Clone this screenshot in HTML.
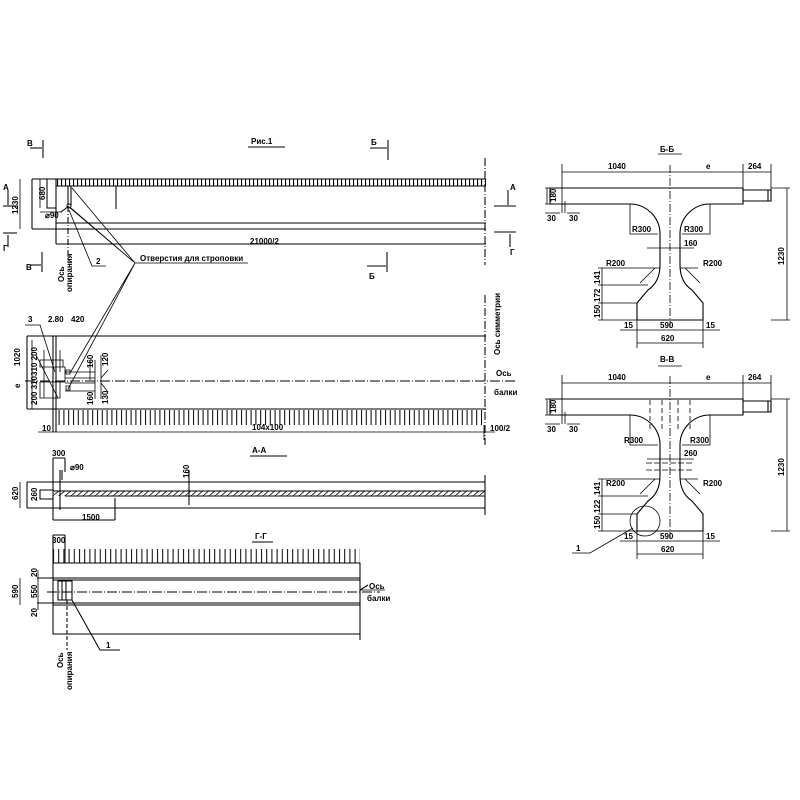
<!DOCTYPE html>
<html><head><meta charset="utf-8"><style>
html,body{margin:0;padding:0;background:#fff}
svg{display:block}
text{font-family:"Liberation Sans Narrow","Liberation Sans",sans-serif;font-size:8px;font-weight:bold;fill:#000}
</style></head><body>
<svg width="800" height="800" viewBox="0 0 800 800" xmlns="http://www.w3.org/2000/svg">
<defs>
<pattern id="tk" x="0" y="0" width="4" height="10" patternUnits="userSpaceOnUse"><rect x="1" y="0" width="1.1" height="10" fill="#000"/></pattern>
<pattern id="tk2" x="0" y="0" width="4.8" height="20" patternUnits="userSpaceOnUse"><rect x="1" y="0" width="1" height="20" fill="#000"/></pattern>
<pattern id="tk3" x="0" y="0" width="5.2" height="20" patternUnits="userSpaceOnUse"><rect x="1" y="0" width="1" height="20" fill="#000"/></pattern>
<pattern id="hb" x="0" y="0" width="6" height="5" patternUnits="userSpaceOnUse"><path d="M0,5 L6,0" stroke="#000" stroke-width="0.8"/></pattern>
</defs>
<g fill="none" stroke="#000" stroke-width="1.05">
<line x1="248" y1="147" x2="285" y2="147"/>
<line x1="43" y1="140" x2="43" y2="158"/><line x1="30" y1="148" x2="42" y2="148"/>
<line x1="42" y1="252" x2="42" y2="272"/><line x1="30" y1="265" x2="41" y2="265"/>
<line x1="388" y1="140" x2="388" y2="160"/><line x1="370" y1="148" x2="387" y2="148"/>
<line x1="387" y1="252" x2="387" y2="272"/><line x1="367" y1="266" x2="386" y2="266"/>
<line x1="3" y1="206" x2="17" y2="206"/><line x1="8" y1="190" x2="8" y2="205"/>
<line x1="3" y1="233" x2="17" y2="233"/><line x1="8" y1="235" x2="8" y2="247"/>
<line x1="494" y1="206" x2="516" y2="206"/><line x1="508" y1="190" x2="508" y2="205"/>
<line x1="494" y1="232" x2="516" y2="232"/><line x1="510" y1="234" x2="510" y2="247"/>
<path d="M32,179 H486 M32,179 V229 M56,179 V244 M47,179 V208 H56 M56,186 H486 M56,223 H486 M32,229 H486 M56,244 H486 M116,186 V209 M68,186 V205 M71,186 V205"/>
<line x1="68" y1="206" x2="68" y2="262" stroke-dasharray="6,2,1,2"/>
<circle cx="69" cy="206" r="2"/>
<line x1="61" y1="212" x2="69" y2="206"/>
<line x1="40" y1="212" x2="62" y2="212" stroke-width="0.8"/>
<line x1="485" y1="158" x2="485" y2="265" stroke-dasharray="8,2,1,2"/>
<line x1="20" y1="179" x2="20" y2="229" stroke-width="0.8"/>
<line x1="40" y1="179" x2="40" y2="208" stroke-width="0.8"/>
<path d="M72,188 L135,263 M69,207 L135,263 M71,208 L135,263 M135,263 L70,373 M135,263 L68,389 M135,263 H248" stroke-width="0.8"/>
<path d="M69,210 L92,266 H106" stroke-width="0.8"/>
<path d="M27,336 H486 M27,336 V409 M27,409 H486 M53,336 V432 M56,336 V432"/>
<line x1="25" y1="381" x2="515" y2="381" stroke-dasharray="10,2,1,2"/>
<line x1="485" y1="295" x2="485" y2="440" stroke-dasharray="8,2,1,2"/>
<path d="M40,360 H63 V367 H40 Z M40,367 H65 V382 H40 M40,382 H60 V398 H40 Z M44,350 V398 M36,355 L58,398 M60,350 V372 M66,370 h4 v4 h-4 z M66,386 h4 v4 h-4 z M65,372 H95 M65,378 H95 M65,383 H95 M65,391 H95 M95,360 V399 M90,360 V380 M101,355 V399 M101,378 L108,370 M101,383 L108,392 M25,325 H40 L55,372" stroke-width="0.8"/>
<line x1="32" y1="340" x2="32" y2="409" stroke-width="0.8"/>
<line x1="38" y1="432" x2="495" y2="432" stroke-width="0.8"/>
<line x1="484" y1="425" x2="484" y2="440" stroke-width="0.8"/>
<line x1="250" y1="456" x2="287" y2="456"/>
<path d="M27,482 H485 M27,482 V508 M27,508 H485 M53,458 V520 M65,458 V472 M53,458 H65 M40,490 H53 V499 H40 Z M53,491 H485 M65,496 H485 M60,470 V510 M62,470 V480 M53,520 H115 M115,498 V520 M189,470 V505"/>
<rect x="53" y="491" width="432" height="5" fill="url(#hb)" stroke="none"/>
<path d="M485,475 V515 M485,438 V445"/>
<line x1="20" y1="482" x2="20" y2="508" stroke-width="0.8"/>
<line x1="252" y1="542" x2="273" y2="542"/>
<path d="M53,535 V563 M65,535 V563 M53,535 H65 M53,563 H360 V640 M53,563 V634 H360 M37,578 H360 M53,580 H360 M37,603 H360 M53,605 H360 M58,581 H72 V600 H58 Z M62,581 V600 M66,581 V600 M72,600 L100,650 H120 M360,590 L368,585"/>
<line x1="47" y1="592" x2="380" y2="592" stroke-dasharray="10,2,1,2"/>
<line x1="67" y1="600" x2="67" y2="650" stroke-dasharray="4,2"/>
<line x1="360" y1="590" x2="385" y2="590" stroke-width="0.8"/>
<line x1="20" y1="578" x2="20" y2="605" stroke-width="0.8"/>
<line x1="38" y1="570" x2="38" y2="610" stroke-width="0.8"/>
</g>
<rect x="56" y="179" width="430" height="7" fill="url(#tk)"/>
<rect x="57" y="410" width="428" height="15" fill="url(#tk2)"/>
<rect x="53" y="549" width="307" height="14" fill="url(#tk3)"/>

<g id="sec" fill="none" stroke="#000" stroke-width="1.1">
<path d="M550,188 H743 V204 H710 A30 30 0 0 0 680,234 V265 Q680,282 692,290 L703,303 V320 H637 V303 L648,290 Q660,282 660,265 V234 A30 30 0 0 0 630,204 H550 Z"/>
<path d="M743,190 H771 V201 H743 M768,190 V201"/>
<path d="M562,164 V205 M743,164 V190 M771,164 V190 M562,172 H771 M562,201 V213 M565,201 V213 M545,213 H560 M567,213 H580 M771,188 H790 M771,320 H790 M787,188 V320 M630,204 V234 H658 M710,204 V234 H682 M647,248 H694 M640,268 H660 M680,268 H698 M602,268 V320 M598,268 H640 M598,285 H648 M598,303 H637 M598,320 H637 M637,320 V348 M703,320 V348 M620,330 H720 M637,343 H703 M655,268 L640,283 M685,268 L700,283 M545,188 H550 M545,204 H550 M547,188 V204" stroke-width="0.8"/>
<line x1="670" y1="165" x2="670" y2="328" stroke-dasharray="8,2,1,2" stroke-width="0.8"/>
</g>
<use href="#sec" transform="translate(0,211)"/>
<g fill="none" stroke="#000" stroke-width="0.8">
<line x1="658" y1="154" x2="682" y2="154"/><line x1="658" y1="366" x2="682" y2="366"/>
<path d="M650,400 V430 M662,400 V430 M678,400 V430 M690,400 V430" stroke-dasharray="5,3"/>
<path d="M646,463 H694 M646,470 H694" stroke-dasharray="6,2"/>
<circle cx="645" cy="521" r="15"/>
<path d="M633,528 L590,553 H572"/>
</g>

<text x="251" y="144" font-size="10">Рис.1</text>
<text x="27" y="146">В</text><text x="26" y="270">В</text>
<text x="371" y="145">Б</text><text x="369" y="279">Б</text>
<text x="3" y="190">А</text><text x="3" y="251">Г</text>
<text x="510" y="190">А</text><text x="510" y="255">Г</text>
<text x="250" y="244">21000/2</text>
<text x="140" y="261" font-size="7">Отверстия для строповки</text>
<text x="96" y="264">2</text>
<text x="45" y="218" font-size="6">⌀90</text>
<text transform="translate(18,214) rotate(-90)">1230</text>
<text transform="translate(45,200) rotate(-90)" font-size="7">680</text>
<text transform="translate(64,282) rotate(-90)" font-size="6">Ось</text>
<text transform="translate(72,292) rotate(-90)" font-size="6">опирания</text>
<text x="28" y="322">3</text><text x="48" y="322" font-size="6">2.80</text><text x="71" y="322" font-size="6">420</text>
<text transform="translate(20,366) rotate(-90)" font-size="7">1020</text>
<text transform="translate(20,388) rotate(-90)" font-size="7">e</text>
<text transform="translate(37,376) rotate(-90)" font-size="6">310 200</text>
<text transform="translate(37,405) rotate(-90)" font-size="6">200 310</text>
<text transform="translate(93,368) rotate(-90)" font-size="7">160</text>
<text transform="translate(93,405) rotate(-90)" font-size="7">160</text>
<text transform="translate(108,366) rotate(-90)" font-size="6">120</text>
<text transform="translate(108,404) rotate(-90)" font-size="6">130</text>
<text transform="translate(500,355) rotate(-90)" font-size="6">Ось симметрии</text>
<text x="496" y="376" font-size="7">Ось</text><text x="494" y="395" font-size="7">балки</text>
<text x="42" y="431" font-size="7">10</text>
<text x="252" y="430">104x100</text>
<text x="490" y="431">100/2</text>
<text x="252" y="453">А-А</text>
<text x="52" y="456" font-size="8">300</text>
<text x="70" y="470" font-size="7">⌀90</text>
<text transform="translate(189,478) rotate(-90)" font-size="6">160</text>
<text transform="translate(18,500) rotate(-90)" font-size="7">620</text>
<text transform="translate(37,501) rotate(-90)" font-size="7">260</text>
<text x="82" y="520">1500</text>
<text x="255" y="539">Г-Г</text>
<text x="52" y="543" font-size="8">300</text>
<text transform="translate(18,598) rotate(-90)" font-size="7">590</text>
<text transform="translate(37,598) rotate(-90)" font-size="7">550</text>
<text transform="translate(37,577) rotate(-90)" font-size="6">20</text>
<text transform="translate(37,617) rotate(-90)" font-size="6">20</text>
<text x="369" y="589" font-size="7">Ось</text><text x="367" y="601" font-size="6">балки</text>
<text x="106" y="648">1</text>
<text transform="translate(63,668) rotate(-90)" font-size="6">Ось</text>
<text transform="translate(72,690) rotate(-90)" font-size="6">опирания</text>

<text x="660" y="152">Б-Б</text>
<text x="608" y="169">1040</text><text x="706" y="169">e</text><text x="748" y="169">264</text>
<text transform="translate(556,202) rotate(-90)" font-size="7">180</text>
<text x="547" y="221">30</text><text x="569" y="221">30</text>
<text x="632" y="232">R300</text><text x="684" y="232">R300</text>
<text x="684" y="246">160</text>
<text x="606" y="266">R200</text><text x="703" y="266">R200</text>
<text transform="translate(600,284) rotate(-90)" font-size="7">141</text>
<text transform="translate(600,302) rotate(-90)" font-size="7">172</text>
<text transform="translate(600,318) rotate(-90)" font-size="7">150</text>
<text x="624" y="328">15</text><text x="660" y="328">590</text><text x="706" y="328">15</text>
<text x="661" y="341">620</text>
<text transform="translate(784,265) rotate(-90)">1230</text>

<text x="660" y="362">В-В</text>
<text x="608" y="380">1040</text><text x="706" y="380">e</text><text x="748" y="380">264</text>
<text transform="translate(556,413) rotate(-90)" font-size="7">180</text>
<text x="547" y="432">30</text><text x="569" y="432">30</text>
<text x="624" y="443">R300</text><text x="690" y="443">R300</text>
<text x="684" y="456">260</text>
<text x="606" y="486">R200</text><text x="703" y="486">R200</text>
<text transform="translate(600,495) rotate(-90)" font-size="7">141</text>
<text transform="translate(600,513) rotate(-90)" font-size="7">122</text>
<text transform="translate(600,529) rotate(-90)" font-size="7">150</text>
<text x="624" y="539">15</text><text x="660" y="539">590</text><text x="706" y="539">15</text>
<text x="661" y="552">620</text>
<text x="576" y="551">1</text>
<text transform="translate(784,476) rotate(-90)">1230</text>
</svg>
</body></html>
